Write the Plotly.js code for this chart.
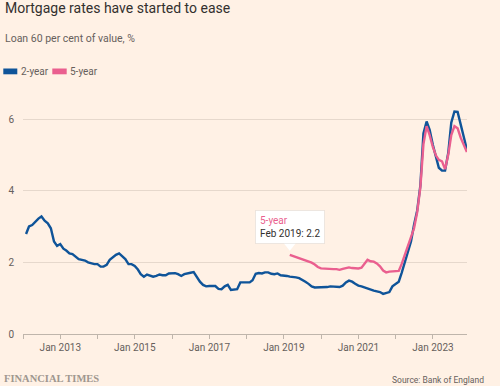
<!DOCTYPE html>
<html>
<head>
<meta charset="utf-8">
<script src="https://cdn.plot.ly/plotly-3.0.1.min.js"></script>
<style>
  html, body { margin: 0; padding: 0; background: #fff1e5; }
  #chart { width: 500px; height: 386px; }
</style>
</head>
<body>
<div id="chart"></div>
<script>
// ---- Data (monthly, month-end dates) ----
const twoYearStart = [2012, 1];   // Jan 2012
const twoYear = [
  2.79, 3.00, 3.04, 3.13, 3.22, 3.28, 3.16, 3.09, 2.95, 2.58, 2.46, 2.51,
  2.38, 2.33, 2.25, 2.23, 2.16, 2.09, 2.07, 2.05, 2.00, 1.97, 1.95, 1.95,
  1.88, 1.88, 1.93, 2.07, 2.14, 2.21, 2.25, 2.18, 2.09, 1.95, 1.95, 1.90,
  1.80, 1.67, 1.60, 1.66, 1.64, 1.60, 1.62, 1.66, 1.64, 1.64, 1.69, 1.70,
  1.70, 1.67, 1.62, 1.67, 1.70, 1.71, 1.73, 1.60, 1.46, 1.37, 1.33, 1.34,
  1.33, 1.34, 1.26, 1.25, 1.33, 1.37, 1.23, 1.23, 1.25, 1.44, 1.45, 1.44,
  1.44, 1.50, 1.68, 1.70, 1.69, 1.72, 1.72, 1.68, 1.67, 1.69, 1.64, 1.64,
  1.62, 1.60, 1.60, 1.58, 1.56, 1.52, 1.46, 1.40, 1.33, 1.30, 1.30, 1.31,
  1.31, 1.31, 1.33, 1.32, 1.33, 1.31, 1.35, 1.44, 1.49, 1.46, 1.40, 1.35,
  1.33, 1.30, 1.27, 1.23, 1.21, 1.19, 1.17, 1.12, 1.15, 1.17, 1.33, 1.40,
  1.46, 1.70, 1.98, 2.28, 2.58, 3.05, 3.45, 4.15, 5.60, 5.93, 5.70, 5.28,
  4.90, 4.64, 4.56, 4.56, 5.05, 5.90, 6.21, 6.20, 5.85, 5.48, 5.15
];
const fiveYearStart = [2019, 2];  // Feb 2019
const fiveYear = [
  2.21, 2.18, 2.15, 2.12, 2.09, 2.06, 2.03, 1.99, 1.94, 1.87, 1.83,
  1.82, 1.81, 1.82, 1.81, 1.81, 1.79, 1.82, 1.85, 1.86, 1.84, 1.83, 1.83,
  1.85, 1.96, 2.07, 2.03, 2.02, 1.97, 1.89, 1.77, 1.72, 1.74, 1.75, 1.75,
  1.76, 1.95, 2.20, 2.43, 2.66, 2.95, 3.40, 4.10, 5.30, 5.80, 5.55, 5.22,
  4.98, 4.86, 4.82, 4.60, 5.00, 5.55, 5.80, 5.74, 5.48, 5.25, 5.08
];
const seriesNames = ['2-year', '5-year'];
const xTickVals = ['2012-01-01','2013-01-01','2014-01-01','2015-01-01','2016-01-01','2017-01-01',
                   '2018-01-01','2019-01-01','2020-01-01','2021-01-01','2022-01-01','2023-01-01'];
const xTickText = ['', 'Jan 2013', '', 'Jan 2015', '', 'Jan 2017',
                   '', 'Jan 2019', '', 'Jan 2021', '', 'Jan 2023'];
const yTickVals = [0, 2, 4, 6];
const tooltipSeries = '5-year';
const tooltipLabel = 'Feb 2019: 2.2';

// ---- helpers ----
function monthEnds(start, n) {
  const out = [];
  for (let i = 0; i < n; i++) {
    const d = new Date(Date.UTC(start[0], start[1] - 1 + i + 1, 0));
    out.push(d.toISOString().slice(0, 10));
  }
  return out;
}
const x2 = monthEnds(twoYearStart, twoYear.length);
const x5 = monthEnds(fiveYearStart, fiveYear.length);

const BLUE = '#0f5499', PINK = '#ea5f8f';
const W = 500, H = 386;
const M = {l: 23, r: 33, t: 100, b: 52};
const PW = W - M.l - M.r, PH = H - M.t - M.b;
const px = v => (v - M.l) / PW;
const py = v => (H - M.b - v) / PH;

const FONT = 'Roboto, "Noto Sans", sans-serif';

const traces = [
  {x: x2, y: twoYear, name: seriesNames[0], type: 'scatter', mode: 'lines',
   line: {color: BLUE, width: 2.4}, hoverinfo: 'skip', showlegend: false},
  {x: x5, y: fiveYear, name: seriesNames[1], type: 'scatter', mode: 'lines',
   line: {color: PINK, width: 2.4}, hoverinfo: 'skip', showlegend: false}
];

const annotations = [
  {xref: 'paper', yref: 'paper', x: px(2.5), y: py(8), xanchor: 'left', yanchor: 'middle',
   text: 'Mortgage rates have started to ease', showarrow: false,
   font: {family: FONT, size: 14, color: '#33302e'}},
  {xref: 'paper', yref: 'paper', x: px(3), y: py(38.5), xanchor: 'left', yanchor: 'middle',
   text: 'Loan 60 per cent of value, %', showarrow: false,
   font: {family: FONT, size: 10.5, color: '#66605c'}},
  {xref: 'paper', yref: 'paper', x: px(18.5), y: py(71.5), xanchor: 'left', yanchor: 'middle',
   text: seriesNames[0], showarrow: false, font: {family: FONT, size: 10, color: '#66605c'}},
  {xref: 'paper', yref: 'paper', x: px(68), y: py(71.5), xanchor: 'left', yanchor: 'middle',
   text: seriesNames[1], showarrow: false, font: {family: FONT, size: 10, color: '#66605c'}},
  {xref: 'paper', yref: 'paper', x: px(2), y: py(378), xanchor: 'left', yanchor: 'middle',
   text: '<b>FINANCIAL TIMES</b>', showarrow: false,
   font: {family: '"Liberation Serif", "DejaVu Serif", serif', size: 10.5, color: '#a0978f'}},
  {xref: 'paper', yref: 'paper', x: px(486), y: py(380), xanchor: 'right', yanchor: 'middle',
   text: 'Source: Bank of England', showarrow: false,
   font: {family: FONT, size: 8.5, color: '#66605c'}},
  {xref: 'x', yref: 'y', x: x5[0], y: fiveYear[0], xanchor: 'center', yanchor: 'bottom',
   yshift: 11, showarrow: false, align: 'left',
   text: '<span style="color:' + PINK + '">' + tooltipSeries + '</span><br>' + tooltipLabel,
   bgcolor: '#ffffff', bordercolor: 'rgba(0,0,0,0.07)', borderwidth: 1, borderpad: 4,
   font: {family: FONT, size: 10, color: '#33302e'}}
];

const shapes = [
  {type: 'rect', xref: 'paper', yref: 'paper', x0: px(3.3), x1: px(17.3), y0: py(68.5), y1: py(74.3),
   fillcolor: BLUE, line: {width: 0}},
  {type: 'rect', xref: 'paper', yref: 'paper', x0: px(52.3), x1: px(66.7), y0: py(68.5), y1: py(74.3),
   fillcolor: PINK, line: {width: 0}},
  {type: 'path', xref: 'x', yref: 'y', xsizemode: 'pixel', ysizemode: 'pixel',
   xanchor: x5[0], yanchor: fiveYear[0], path: 'M -6 11.5 L 6 11.5 L 0 4 Z',
   fillcolor: '#ffffff', line: {width: 0}, layer: 'above'}
];

const layout = {
  width: W, height: H, margin: M,
  paper_bgcolor: '#fff1e5', plot_bgcolor: '#fff1e5',
  font: {family: FONT, color: '#66605c'},
  showlegend: false,
  xaxis: {
    type: 'date', range: ['2012-01-01', '2023-12-01'],
    tickmode: 'array', tickvals: xTickVals, ticktext: xTickText,
    ticks: 'outside', ticklen: 4, tickwidth: 1, tickcolor: '#bfb5ab',
    showline: true, linecolor: '#bfb5ab', linewidth: 1,
    showgrid: false, zeroline: false,
    tickfont: {family: FONT, size: 10, color: '#66605c'}
  },
  yaxis: {
    range: [0, PH / 35.83], tickmode: 'array', tickvals: yTickVals,
    showgrid: true, gridcolor: '#e6d8cc', gridwidth: 1, zeroline: false,
    ticks: '', ticklabelstandoff: 8, showline: false,
    tickfont: {family: FONT, size: 10, color: '#66605c'}
  },
  annotations: annotations,
  shapes: shapes
};

Plotly.newPlot('chart', traces, layout, {staticPlot: true, displayModeBar: false});
</script>
</body>
</html>
